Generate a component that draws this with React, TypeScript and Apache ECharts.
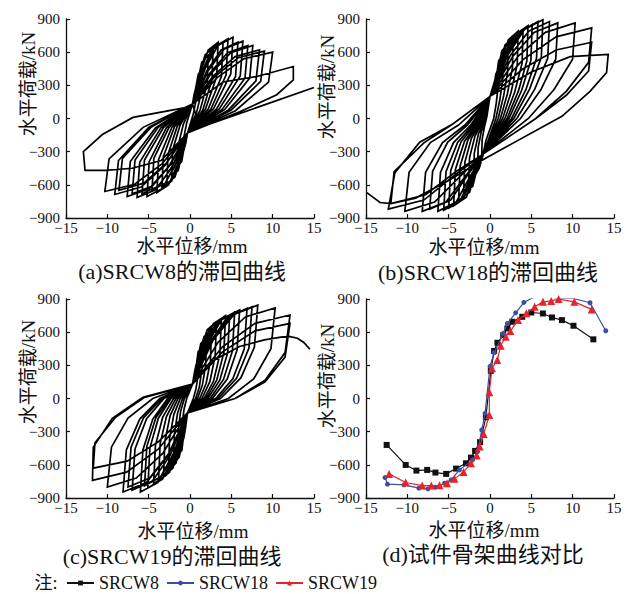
import React, { useEffect, useRef } from 'react';
import * as echarts from 'echarts';

// ---------- text ----------
const xAxisName = '水平位移/mm';
const yAxisName = '水平荷载/kN';
const panelCaptions = ['(a)SRCW8的滞回曲线', '(b)SRCW18的滞回曲线', '(c)SRCW19的滞回曲线', '(d)试件骨架曲线对比'];
const skeletonNames = ['SRCW8', 'SRCW18', 'SRCW19'];
const noteLabel = '注:';

// ---------- axes ----------
const xTicks = [-15, -10, -5, 0, 5, 10, 15];
const yTicks = [-900, -600, -300, 0, 300, 600, 900];

// ---------- (a) SRCW8 hysteresis loops: [displacement mm, load kN] ----------
const srcw8Loops = [
  [[0.3,130],[0.5,220],[0.8,300],[0.75,170],[0.4,40],[-0.3,-130],[-0.5,-220],[-0.8,-300],[-0.75,-170],[-0.4,-40]],
  [[0.3,130],[0.75,300],[1.0,400],[1.5,450],[1.42,250],[0.8,55],[-0.3,-130],[-0.75,-280],[-1.0,-390],[-1.5,-430],[-1.42,-240],[-0.8,-50]],
  [[0.3,130],[0.96,350],[1.43,510],[2.2,570],[2.1,315],[1.2,70],[-0.3,-130],[-0.96,-320],[-1.43,-470],[-2.2,-520],[-2.1,-285],[-1.2,-60]],
  [[0.3,130],[1.14,400],[1.82,575],[2.8,640],[2.66,350],[1.54,75],[-0.3,-130],[-1.14,-365],[-1.82,-530],[-2.8,-590],[-2.66,-325],[-1.54,-70]],
  [[0.3,130],[1.32,430],[2.21,620],[3.4,690],[3.23,380],[1.87,85],[-0.3,-130],[-1.32,-390],[-2.21,-565],[-3.4,-630],[-3.23,-345],[-1.87,-75]],
  [[0.3,130],[1.5,430],[2.6,620],[4.0,690],[3.8,380],[2.2,85],[-0.3,-130],[-1.5,-415],[-2.6,-600],[-4.0,-670],[-3.8,-370],[-2.2,-80]],
  [[0.3,130],[1.68,445],[3.0,650],[4.6,720],[4.37,395],[2.53,85],[-0.3,-130],[-1.68,-405],[-3.0,-585],[-4.6,-650],[-4.37,-360],[-2.53,-80]],
  [[0.3,130],[1.86,455],[3.38,660],[5.2,735],[4.94,405],[2.86,90],[-0.3,-130],[-1.86,-435],[-3.38,-635],[-5.2,-705],[-4.94,-390],[-2.86,-85]],
  [[0.3,130],[2.04,430],[3.77,620],[5.8,690],[5.51,380],[3.19,85],[-0.3,-130],[-2.04,-420],[-3.77,-610],[-5.8,-680],[-5.51,-375],[-3.19,-80]],
  [[0.3,130],[2.22,435],[4.16,630],[6.4,700],[6.08,385],[3.52,85],[-0.3,-130],[-2.22,-445],[-4.16,-645],[-6.4,-714],[-6.08,-395],[-3.52,-85]],
  [[0.3,130],[2.4,410],[4.55,595],[7.0,660],[6.65,365],[3.85,80],[-0.3,-130],[-2.4,-420],[-4.55,-610],[-7.0,-680],[-6.65,-375],[-3.85,-80]],
  [[0.3,130],[2.58,410],[4.94,595],[7.6,660],[7.22,365],[4.18,80],[-0.3,-130],[-2.58,-435],[-4.94,-635],[-7.6,-705],[-7.22,-390],[-4.18,-85]],
  [[0.3,130],[2.82,385],[5.46,560],[8.4,620],[7.98,340],[4.62,75],[-0.3,-130],[-2.88,-405],[-5.59,-585],[-8.6,-650],[-8.17,-360],[-4.73,-80]],
  [[0.3,130],[3.0,380],[5.85,550],[9.0,610],[8.55,335],[4.95,75],[-0.3,-130],[-3.03,-425],[-5.92,-620],[-9.1,-687],[-8.65,-380],[-5.0,-80]],
  [[0.3,130],[3.3,370],[6.5,540],[10.0,600],[9.5,330],[5.5,70],[-0.3,-130],[-3.39,-410],[-6.7,-595],[-10.3,-660],[-9.79,-365],[-5.67,-80]],
  [[0.3,130],[4.0,330],[8.1,380],[12.5,470],[12.5,350],[10.5,215],[6.0,60],[-0.3,-130],[-3.5,-380],[-7.0,-450],[-10.3,-470],[-12.7,-470],[-12.9,-300],[-10.6,-145],[-6.9,10],[-0.4,100]],
  [[0.3,130],[1.2,-80],[15,280]],
];

// ---------- (b) SRCW18 hysteresis loops ----------
const srcw18Loops = [
  [[0,200],[0.5,300],[0.7,400],[1.0,450],[0.97,280],[0.75,135],[0.45,0],[-0.5,-200],[-0.75,-290],[-1.0,-330],[-0.95,-190],[-0.7,-85],[-0.37,20]],
  [[0,200],[0.78,377],[1.04,522],[1.6,580],[1.55,360],[1.2,174],[0.72,0],[-0.8,-320],[-1.1,-400],[-1.5,-450],[-1.43,-260],[-1.05,-117],[-0.56,-30]],
  [[0,200],[0.96,442],[1.43,612],[2.2,680],[2.13,420],[1.65,204],[0.99,0],[-0.8,-320],[-1.3,-450],[-2.0,-540],[-1.9,-313],[-1.4,-140],[-0.74,-38]],
  [[0,200],[1.14,481],[1.82,666],[2.8,740],[2.72,459],[2.1,222],[1.26,0],[-0.8,-320],[-1.69,-500],[-2.6,-610],[-2.47,-354],[-1.82,-159],[-0.96,-43]],
  [[0,200],[1.32,514],[2.21,711],[3.4,790],[3.3,490],[2.55,237],[1.53,0],[-0.8,-320],[-1.46,-422],[-2.08,-612],[-3.2,-680],[-3.04,-394],[-2.24,-177],[-1.18,-48]],
  [[0,200],[1.5,523],[2.6,725],[4.0,805],[3.88,499],[3.0,242],[1.8,0],[-0.8,-320],[-1.64,-459],[-2.47,-666],[-3.8,-740],[-3.61,-429],[-2.66,-192],[-1.41,-52]],
  [[0,200],[1.68,546],[2.99,756],[4.6,840],[4.46,521],[3.45,252],[2.07,0],[-0.8,-320],[-1.82,-490],[-2.86,-711],[-4.4,-790],[-4.18,-458],[-3.08,-205],[-1.63,-55]],
  [[0,200],[1.83,553],[3.32,765],[5.1,850],[4.95,527],[3.83,255],[2.3,0],[-0.8,-320],[-2.0,-502],[-3.25,-729],[-5.0,-810],[-4.75,-470],[-3.5,-211],[-1.85,-57]],
  [[0,200],[2.04,570],[3.77,789],[5.8,877],[5.63,544],[4.35,263],[2.61,0],[-0.8,-320],[-2.18,-515],[-3.64,-747],[-5.6,-830],[-5.32,-481],[-3.92,-216],[-2.07,-58]],
  [[0,200],[2.22,581],[4.16,805],[6.4,894],[6.21,554],[4.8,268],[2.88,0],[-0.8,-320],[-2.39,-521],[-4.1,-756],[-6.3,-840],[-5.99,-487],[-4.41,-218],[-2.33,-59]],
  [[0,200],[2.46,570],[4.68,789],[7.2,877],[6.98,544],[5.4,263],[3.24,0],[-0.8,-320],[-2.69,-508],[-4.75,-738],[-7.3,-820],[-6.94,-476],[-5.11,-213],[-2.7,-57]],
  [[0,200],[2.76,562],[5.33,779],[8.2,865],[7.95,536],[6.15,260],[3.69,0],[-0.8,-320],[-2.96,-521],[-5.33,-756],[-8.2,-840],[-7.79,-487],[-5.74,-218],[-3.03,-59]],
  [[0,200],[3.39,562],[6.7,779],[10.3,865],[9.99,536],[7.73,260],[4.64,0],[-0.8,-320],[-3.59,-521],[-6.7,-756],[-10.3,-840],[-9.79,-487],[-7.21,-218],[-3.81,-59]],
  [[0,200],[3.99,533],[8.0,738],[12.3,820],[11.93,508],[9.23,246],[5.54,0],[-0.8,-320],[-4.19,-508],[-8.0,-738],[-12.3,-820],[-11.5,-490],[-8.5,-215],[-4.6,-55]],
  [[0,200],[4.0,450],[8.0,620],[12.3,690],[11.93,430],[9.23,210],[5.54,0],[-0.8,-320],[-4.1,-480],[-7.8,-690],[-12.0,-770],[-11.6,-480],[-8.0,-220],[-4.5,-50]],
  [[0,200],[5.0,420],[9.7,560],[14.3,580],[14.1,415],[12.1,245],[8.7,20],[-0.8,-370],[-5.0,-560],[-9.0,-720],[-12.0,-770],[-13.3,-760],[-14.9,-670]],
];

// ---------- (c) SRCW19 hysteresis loops ----------
const srcw19Loops = [
  [[0.3,130],[0.55,240],[0.75,310],[1.0,340],[0.95,190],[0.7,80],[0.4,0],[-0.3,-130],[-0.55,-270],[-0.75,-360],[-1.0,-400],[-0.95,-220],[-0.7,-90],[-0.4,0]],
  [[0.3,130],[0.75,290],[0.98,423],[1.5,470],[1.43,259],[1.13,103],[0.68,0],[-0.3,-130],[-0.75,-322],[-0.98,-468],[-1.5,-520],[-1.43,-286],[-1.13,-114],[-0.68,0]],
  [[0.3,130],[0.9,341],[1.3,495],[2.0,550],[1.9,303],[1.5,121],[0.9,0],[-0.3,-130],[-0.9,-366],[-1.3,-531],[-2.0,-590],[-1.9,-325],[-1.5,-130],[-0.9,0]],
  [[0.3,130],[1.08,384],[1.69,558],[2.6,620],[2.47,341],[1.95,136],[1.17,0],[-0.3,-130],[-1.08,-403],[-1.69,-585],[-2.6,-650],[-2.47,-358],[-1.95,-143],[-1.17,0]],
  [[0.3,130],[1.26,428],[2.08,621],[3.2,690],[3.04,380],[2.4,152],[1.44,0],[-0.3,-130],[-1.26,-434],[-2.08,-630],[-3.2,-700],[-3.04,-385],[-2.4,-154],[-1.44,0]],
  [[0.3,130],[1.44,446],[2.47,648],[3.8,720],[3.61,396],[2.85,158],[1.71,0],[-0.3,-130],[-1.44,-459],[-2.47,-666],[-3.8,-740],[-3.61,-407],[-2.85,-163],[-1.71,0]],
  [[0.3,130],[1.59,465],[2.8,675],[4.3,750],[4.09,413],[3.23,165],[1.94,0],[-0.3,-130],[-1.62,-477],[-2.86,-693],[-4.4,-770],[-4.18,-424],[-3.3,-169],[-1.98,0]],
  [[0.3,130],[1.74,468],[3.12,680],[4.8,755],[4.56,415],[3.6,166],[2.16,0],[-0.3,-130],[-1.83,-502],[-3.32,-729],[-5.1,-810],[-4.85,-446],[-3.83,-178],[-2.3,0]],
  [[0.3,130],[1.92,484],[3.51,702],[5.4,780],[5.13,429],[4.05,172],[2.43,0],[-0.3,-130],[-1.95,-490],[-3.58,-711],[-5.5,-790],[-5.23,-435],[-4.13,-174],[-2.48,0]],
  [[0.3,130],[2.1,496],[3.9,720],[6.0,800],[5.7,440],[4.5,176],[2.7,0],[-0.3,-130],[-2.1,-524],[-3.9,-761],[-6.0,-845],[-5.7,-465],[-4.5,-186],[-2.7,0]],
  [[0.3,130],[2.37,505],[4.49,734],[6.9,815],[6.56,448],[5.18,179],[3.11,0],[-0.3,-130],[-2.4,-515],[-4.55,-747],[-7.0,-830],[-6.65,-457],[-5.25,-183],[-3.15,0]],
  [[0.3,130],[2.55,515],[4.88,747],[7.5,830],[7.13,457],[5.63,183],[3.38,0],[-0.3,-130],[-2.55,-496],[-4.88,-720],[-7.5,-800],[-7.13,-440],[-5.63,-176],[-3.38,0]],
  [[0.3,130],[2.76,524],[5.33,761],[8.2,845],[7.79,465],[6.15,186],[3.69,0],[-0.3,-130],[-2.73,-524],[-5.27,-761],[-8.1,-845],[-7.7,-465],[-6.08,-186],[-3.65,0]],
  [[0.3,130],[3.39,508],[6.7,738],[10.3,820],[9.79,451],[7.73,180],[4.64,0],[-0.3,-130],[-3.3,-496],[-6.5,-720],[-10.0,-800],[-9.5,-440],[-7.5,-176],[-4.5,0]],
  [[0.3,130],[3.93,468],[7.87,680],[12.1,755],[11.5,415],[9.08,166],[5.45,0],[-0.3,-130],[-3.84,-459],[-7.67,-666],[-11.8,-740],[-11.7,-440],[-9.4,-180],[-5.7,10]],
  [[0.3,130],[3.93,422],[7.87,612],[12.1,680],[11.5,374],[9.08,150],[5.45,0],[-0.3,-130],[-3.8,-390],[-7.6,-567],[-11.7,-630],[-11.5,-400],[-9.0,-170],[-5.5,10],[-0.8,105]],
  [[0.3,130],[2.5,330],[6.0,470],[9.0,530],[11.0,555],[12.0,562],[13.0,545],[13.8,505],[14.5,445]],
];

// ---------- (d) skeleton curves ----------
const skeletonSRCW8 = [[-12.5,-420],[-10.2,-601],[-8.9,-652],[-7.6,-646],[-6.6,-670],[-5.3,-682],[-4.1,-634],[-2.9,-586],[-2.3,-535],[-1.8,-474],[-1.2,-395],[-0.5,-170],[0.1,250],[0.5,430],[0.9,504],[1.6,573],[2.1,634],[2.7,694],[3.9,739],[5.0,778],[6.4,769],[7.5,733],[8.7,709],[10.1,658],[12.5,535]];
const skeletonSRCW18 = [[-12.7,-715],[-12.4,-775],[-10.4,-781],[-8.6,-811],[-7.5,-817],[-6.6,-802],[-5.5,-766],[-4.7,-736],[-3.7,-646],[-2.1,-555],[-1.5,-480],[-1.0,-285],[-0.6,-134],[0.0,290],[0.5,414],[1.6,589],[2.1,679],[3.1,775],[4.1,869],[5.0,905],[6.3,935],[7.1,920],[8.4,905],[10.1,905],[12.1,866],[14.0,613]];
const skeletonSRCW19 = [[-12.2,-682],[-10.2,-760],[-8.2,-788],[-7.1,-788],[-6.1,-785],[-5.2,-766],[-4.3,-727],[-3.2,-664],[-2.3,-586],[-1.6,-516],[-1.25,-435],[-0.76,-321],[-0.08,-149],[-0.08,56],[0.24,273],[0.88,348],[1.29,477],[1.9,558],[2.46,610],[3.39,709],[4.4,770],[5.4,829],[6.41,874],[7.4,883],[8.3,899],[10.2,874],[12.3,806]];

const SERIF = '"Liberation Serif", "Noto Sans CJK SC", serif';
const INK = '#111';

const grids = [
  { left: 66, top: 19, width: 248, height: 199 },
  { left: 366, top: 19, width: 248, height: 199 },
  { left: 66, top: 299, width: 248, height: 199 },
  { left: 366, top: 299, width: 248, height: 199 },
];

const fmt = (v: number) => String(v).replace('-', '\u2212');

function txt(text: string, x: number, y: number, size: number, rotation = 0) {
  return {
    type: 'text', x, y, rotation, silent: true,
    style: {
      text, fill: INK,
      font: `${size}px ${SERIF}`,
      fontSize: size, fontFamily: SERIF,
      align: 'center', verticalAlign: 'middle',
      textAlign: 'center', textVerticalAlign: 'middle',
    },
  };
}

export default function App() {
  const ref = useRef<HTMLDivElement>(null);
  useEffect(() => {
    if (!ref.current) return;
    const chart = echarts.init(ref.current, undefined, { renderer: 'svg' });
    const xAxes = grids.map((_, i) => ({
      type: 'value', gridIndex: i,
      min: xTicks[0], max: xTicks[xTicks.length - 1], interval: 5,
      axisLine: { onZero: false, lineStyle: { color: INK, width: 1.3 } },
      axisTick: { inside: true, length: 4, lineStyle: { color: INK, width: 1.2 } },
      axisLabel: { fontSize: 15, fontFamily: SERIF, color: INK, margin: 3, lineHeight: 14, formatter: fmt },
      splitLine: { show: false },
    }));
    const yAxes = grids.map((_, i) => ({
      type: 'value', gridIndex: i,
      min: yTicks[0], max: yTicks[yTicks.length - 1], interval: 300,
      axisLine: { onZero: false, lineStyle: { color: INK, width: 1.3 } },
      axisTick: { inside: true, length: 4, lineStyle: { color: INK, width: 1.2 } },
      axisLabel: { fontSize: 15, fontFamily: SERIF, color: INK, margin: 6, formatter: fmt },
      splitLine: { show: false },
    }));
    const loopSets = [srcw8Loops, srcw18Loops, srcw19Loops];
    const hystSeries = loopSets.map((loops, i) => ({
      type: 'line', name: 'hyst' + i, xAxisIndex: i, yAxisIndex: i,
      data: loops.flat(), showSymbol: false, symbol: 'none', silent: true,
      lineStyle: { color: '#000', width: 1.7, join: 'miter' },
      clip: true,
    }));
    const skelData = [skeletonSRCW8, skeletonSRCW18, skeletonSRCW19];
    const skelColors = ['#111111', '#3a4ea3', '#e5232b'];
    const skelSymbols = ['rect', 'circle', 'triangle'];
    const skelSizes = [6, 5, 8];
    const skelSeries = skeletonNames.map((name, k) => ({
      type: 'line', name, xAxisIndex: 3, yAxisIndex: 3,
      data: skelData[k], symbol: skelSymbols[k], symbolSize: skelSizes[k], showSymbol: true,
      itemStyle: { color: skelColors[k] },
      lineStyle: { color: skelColors[k], width: 1.2 },
      z: 3 + k,
    }));
    const yNameCenters = [[28, 84], [327, 87], [28, 372], [327, 376]];
    const xNameCenters = [[192, 246], [484, 247], [193, 531], [484, 530]];
    const captionCenters = [[182, 271], [488, 272], [172, 556], [483, 554]];
    const graphics: any[] = [];
    for (let i = 0; i < 4; i++) {
      graphics.push(txt(yAxisName, yNameCenters[i][0], yNameCenters[i][1], 19, Math.PI / 2));
      graphics.push(txt(xAxisName, xNameCenters[i][0], xNameCenters[i][1], 19));
      graphics.push(txt(panelCaptions[i], captionCenters[i][0], captionCenters[i][1], 22));
    }
    graphics.push(txt(noteLabel, 46, 583, 18));
    chart.setOption({
      animation: false,
      backgroundColor: '#ffffff',
      grid: grids,
      xAxis: xAxes,
      yAxis: yAxes,
      legend: {
        data: skeletonNames, left: 66, top: 573, padding: 0, itemWidth: 27, itemHeight: 6, itemGap: 7,
        textStyle: { fontSize: 18, fontFamily: SERIF, color: INK, lineHeight: 20 },
      },
      graphic: { elements: graphics },
      series: [...hystSeries, ...skelSeries],
    });
    return () => chart.dispose();
  }, []);
  return <div ref={ref} style={{ position: 'absolute', left: 0, top: 0, width: 637, height: 594, background: '#fff' }} />;
}
